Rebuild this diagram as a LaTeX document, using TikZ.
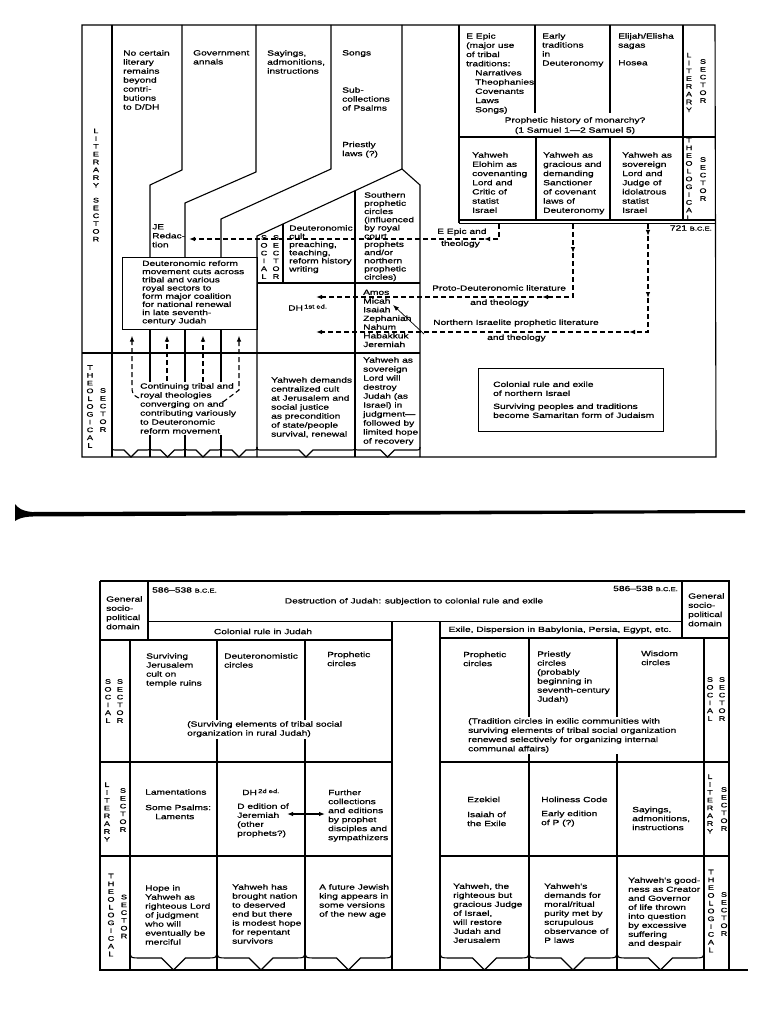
\documentclass[tikz,border=0pt]{standalone}
\usepackage{fontspec}
\usetikzlibrary{arrows.meta}
\newfontfamily\wf[FakeStretch=1.36,FakeBold=0.9]{Liberation Sans}
\newcommand{\txa}{\wf\fontsize{7.5}{9}\selectfont}
\newcommand{\txb}{\wf\fontsize{7.5}{8.2}\selectfont}
\newcommand{\txc}{\wf\fontsize{7.5}{8.7}\selectfont}
\newcommand{\txd}{\wf\fontsize{7.5}{9.2}\selectfont}
\newcommand{\ltf}{\wf\fontsize{6.6}{7.8}\selectfont}
\newcommand{\smf}{\wf\fontsize{5.6}{6}\selectfont}
\newcommand{\mybrace}[5]{%
 \pgfmathsetmacro{\mbxm}{(#1+#2)/2}%
 \pgfmathsetmacro{\mbya}{#3-#4}%
 \pgfmathsetmacro{\mbyc}{#3-#5}%
 \draw[ln] (#1,\mbya) .. controls (#1,\mbyc) and (#1,\mbyc) .. (#1+#4*0.6,\mbyc) -- (\mbxm-#5,\mbyc) -- (\mbxm,#3) -- (\mbxm+#5,\mbyc) -- (#2-#4*0.6,\mbyc) .. controls (#2,\mbyc) and (#2,\mbyc) .. (#2,\mbya);}
\tikzset{
 ln/.style={line width=1.1pt},
 dsh/.style={line width=1.1pt,dash pattern=on 5pt off 3pt},
 tx/.style={anchor=north west,inner sep=0pt,align=left,font=\txa},
 tw/.style={tx,fill=white,inner sep=1.5pt},
 ls/.style={anchor=center,inner sep=0pt,align=center,font=\ltf},
 ah/.style={-{Latex[length=6pt,width=4.5pt]}},
 bx/.style={draw,line width=1.1pt,anchor=north west,inner sep=0pt},
}
\begin{document}
\begin{tikzpicture}[x=1pt,y=-1pt]
\fill[white] (0,0) rectangle (768,1024);
\useasboundingbox (0,0) rectangle (768,1024);

% ================= TOP DIAGRAM =================
\draw[ln] (82,25) -- (715,25) -- (716,457) -- (82,457) -- cycle;
\draw[ln] (112,25) -- (112,457);
\draw[ln] (82,353) -- (420,353);
\draw[ln] (182,25) -- (182,170) -- (150,185) -- (150,257);
\draw[ln] (150,329) -- (150,457);
\draw[ln] (256,25) -- (256,172) -- (185,203) -- (185,257);
\draw[ln] (185,329) -- (185,457);
\draw[ln] (331,25) -- (331,169) -- (221,219) -- (221,257);
\draw[ln] (221,329) -- (221,457);
\draw[ln] (402,25) -- (402,169) -- (257,236) -- (257,457);
\draw[ln] (402,169) -- (420,185) -- (420,457);
\draw[ln] (283,224) -- (283,283);
\draw[ln] (257,283) -- (420,283);
\draw[ln] (355,191) -- (355,457);
% top right block
\draw[ln] (459,25) -- (459,223.5);
\draw[ln] (683,25) -- (683,220);
\draw[ln] (459,137) -- (715,137);
\draw[ln] (535,25) -- (535,113);
\draw[ln] (610,25) -- (610,113);
\draw[ln] (536,137) -- (536,220);
\draw[ln] (610,137) -- (610,220);
\draw[ln] (459,220) -- (715,220);
\draw[ln] (459,223.5) -- (715,223.5);
% braces
\mybrace{112}{150}{457}{10}{7}
\mybrace{150}{185}{457}{10}{7}
\mybrace{185}{221}{457}{10}{7}
\mybrace{221}{257}{457}{10}{7}
\mybrace{257}{355}{457}{10}{7}
\mybrace{355}{420}{457}{10}{7}

% sector labels
\node[ls] (lsTL) at (96,185) {L\\I\\T\\E\\R\\A\\R\\Y\\[7pt]S\\E\\C\\T\\O\\R};
\node[ls] (lsBLa) at (90,406.5) {T\\H\\E\\O\\L\\O\\G\\I\\C\\A\\L};
\node[ls] (lsBLb) at (103,410) {S\\E\\C\\T\\O\\R};
\node[ls] (lsTRa) at (689,82.5) {L\\I\\T\\E\\R\\A\\R\\Y};
\node[ls] (lsTRb) at (703,81) {S\\E\\C\\T\\O\\R};
\node[ls] (lsTRc) at (689,179) {T\\H\\E\\O\\L\\O\\G\\I\\C\\A\\L};
\node[ls] (lsTRd) at (703,179) {S\\E\\C\\T\\O\\R};
\node[ls] (lsSa) at (264,257) {S\\O\\C\\I\\A\\L};
\node[ls] (lsSb) at (276,257) {S\\E\\C\\T\\O\\R};

% upper column texts
\node[tx] (t1) at (123,50) {No certain\\literary\\remains\\beyond\\contri-\\butions\\to D/DH};
\node[tx] (t2) at (193,50) {Government\\annals};
\node[tx] (t3) at (267,50) {Sayings,\\admonitions,\\instructions};
\node[tx] (t4) at (342,50) {Songs};
\node[tx] (t5) at (342,87) {Sub-\\collections\\of Psalms};
\node[tx] (t6) at (342,141.5) {Priestly\\laws (?)};
\node[tx,font=\txb] (t7) at (364,192) {Southern\\prophetic\\circles\\(influenced\\by royal\\court\\prophets\\and/or\\northern\\prophetic\\circles)};
\node[tx] (t8) at (152,224) {JE\\Redac-\\tion};
\node[tx,font=\txb] (t9) at (289,225) {Deuteronomic\\cult\\preaching,\\teaching,\\reform history\\writing};
\node[bx,minimum width=135pt,minimum height=72pt] (drm) at (122,257) {};
\node[tx,font=\txb] (drmt) at (142,260.3) {Deuteronomic reform\\movement cuts across\\tribal and various\\royal sectors to\\form major coalition\\for national renewal\\in late seventh-\\century Judah};
\node[tx,anchor=west] (dh1) at (288,307.5) {DH\,\raisebox{2pt}{\smf 1st ed.}};
\node[tx,font=\txc] (proph) at (363,289.5) {Amos\\Micah\\Isaiah\\Zephaniah\\Nahum\\Habakkuk\\Jeremiah};

% top right texts
\node[tx,font=\txd] (e1) at (466,33) {E Epic\\(major use\\of tribal\\traditions:\\\hspace*{9pt}Narratives\\\hspace*{9pt}Theophanies\\\hspace*{9pt}Covenants\\\hspace*{9pt}Laws\\\hspace*{9pt}Songs)};
\node[tx] (e2) at (542,33) {Early\\traditions\\in\\Deuteronomy};
\node[tx] (e3) at (618,33) {Elijah/Elisha\\sagas};
\node[tx] (e4) at (618,60) {Hosea};
\node[tx,anchor=north,align=center] (e5) at (575,117) {Prophetic history of monarchy?\\[1pt](1 Samuel 1—2 Samuel 5)};
\node[tx,font=\txd] (y1) at (472,152) {Yahweh\\Elohim as\\covenanting\\Lord and\\Critic of\\statist\\Israel};
\node[tx,font=\txd] (y2) at (543,152) {Yahweh as\\gracious and\\demanding\\Sanctioner\\of covenant\\laws of\\Deuteronomy};
\node[tx,font=\txd] (y3) at (622,152) {Yahweh as\\sovereign\\Lord and\\Judge of\\idolatrous\\statist\\Israel};
\node[tx,anchor=east] (d721) at (712,228) {721 {\smf B.C.E.}};

% arrow labels
\node[tx,anchor=west] (la1) at (437,232) {E Epic and};
\node[tx,anchor=west] (la2) at (441,244) {theology};
\node[tx,anchor=west] (lb1) at (432,288) {Proto-Deuteronomic literature};
\node[tx,anchor=west] (lb2) at (470,303) {and theology};
\node[tx,anchor=west] (lc1) at (433,323) {Northern Israelite prophetic literature};
\node[tx,anchor=west] (lc2) at (487,338) {and theology};

% lower texts
\node[tw] (th1) at (138.5,381.5) {Continuing tribal and\\royal theologies\\converging on and\\contributing variously\\to Deuteronomic\\reform movement};
\node[tx] (th2) at (271,377) {Yahweh demands\\centralized cult\\at Jerusalem and\\social justice\\as precondition\\of state/people\\survival, renewal};
\node[tx] (th3) at (363,357) {Yahweh as\\sovereign\\Lord will\\destroy\\Judah (as\\Israel) in\\judgment—\\followed by\\limited hope\\of recovery};
\node[bx,minimum width=185pt,minimum height=63pt] (col) at (478,368) {};
\node[tx] (colt) at (493,381.3) {Colonial rule and exile\\of northern Israel\\[4pt]Surviving peoples and traditions\\become Samaritan form of Judaism};

% dashed connectors
\coordinate (a0) at (499,224); \coordinate (a2) at (484,239); \coordinate (a3) at (189,239);
\draw[dsh,ah] (a0) |- (a2);
\draw[dsh,ah] (a2) -- (a3);
\coordinate (b0) at (573,224); \coordinate (b1) at (573,253); \coordinate (b3) at (542,297); \coordinate (b4) at (316,297);
\draw[dsh,ah] (b0) -- (b1);
\draw[dsh,ah] (b1) |- (b3);
\draw[dsh,ah] (b3) -- (b4);
\coordinate (c0) at (648,224); \coordinate (c1) at (648,236); \coordinate (c2) at (648,298); \coordinate (c4) at (629,332); \coordinate (c5) at (316,332);
\draw[dsh,ah] (c0) -- (c1);
\draw[dsh,ah] (c1) -- (c2);
\draw[dsh,ah] (c2) |- (c4);
\draw[dsh,ah] (c4) -- (c5);
\coordinate (d0) at (424,334); \coordinate (d1) at (393,305);
\draw[line width=0.7pt,ah] (d0) -- (d1);
% upward arrows to reform box
\draw[dsh,ah] (139,398) .. controls (132,395) and (132,392) .. (132,386) -- (132,335.5);
\draw[dsh,ah] (167,381) -- (167,335.5);
\draw[dsh,ah] (203,382) -- (203,335.5);
\draw[dsh,ah] (223,402) -- (239,390) -- (239,335.5);

% ================= MIDDLE BAR =================
\fill[black] (15,504) .. controls (18,508) and (22,511) .. (32,512) -- (745,510) -- (745,513) -- (32,516.5) .. controls (22,517) and (18,519) .. (15,521) -- cycle;

% ================= BOTTOM DIAGRAM =================
\draw[ln] (100,581) -- (729,581) -- (729,970);
\draw[ln] (100,581) -- (100,970) -- (748,970);
\draw[ln] (148,581) -- (148,640);
\draw[ln] (100,640) -- (392,640);
\draw[ln] (148,621.5) -- (682,621.5);
\draw[ln] (682,581) -- (682,638);
\draw[ln] (440,638) -- (729,638);
\draw[ln] (392,621.5) -- (392,970);
\draw[ln] (440,621.5) -- (440,970);
\draw[ln] (130,640) -- (130,970);
\draw[ln] (217,640) -- (217,970);
\draw[ln] (305,640) -- (305,970);
\draw[ln] (529,638) -- (529,970);
\draw[ln] (617,638) -- (617,970);
\draw[ln] (704,638) -- (704,970);
\draw[ln] (100,762) -- (392,762);
\draw[ln] (440,762) -- (729,762);
\draw[ln] (100,856) -- (392,856);
\draw[ln] (440,856) -- (729,856);
\mybrace{130}{217}{970}{20}{12}
\mybrace{217}{305}{970}{20}{12}
\mybrace{305}{392}{970}{20}{12}
\mybrace{440}{529}{970}{20}{12}
\mybrace{529}{617}{970}{20}{12}
\mybrace{617}{704}{970}{20}{12}

% header
\node[tx,font=\txd] (g1) at (106,596) {General\\socio-\\political\\domain};
\node[tx,font=\txd] (g2) at (688,593) {General\\socio-\\political\\domain};
\node[tx,anchor=west] (dt1) at (152,590) {586–538 {\smf B.C.E.}};
\node[tx,anchor=east] (dt2) at (678,588.5) {586–538 {\smf B.C.E.}};
\node[tx,anchor=center] (hd) at (414,601.5) {Destruction of Judah: subjection to colonial rule and exile};
\node[tx,anchor=center] (cr) at (263,631.5) {Colonial rule in Judah};
\node[tx,anchor=center] (ex) at (560,630) {Exile, Dispersion in Babylonia, Persia, Egypt, etc.};

% bottom labels
\node[ls] (bl1) at (108,701) {S\\O\\C\\I\\A\\L};
\node[ls] (bl2) at (120,701) {S\\E\\C\\T\\O\\R};
\node[ls] (bl3) at (107,812) {L\\I\\T\\E\\R\\A\\R\\Y};
\node[ls] (bl4) at (123,810) {S\\E\\C\\T\\O\\R};
\node[ls] (bl5) at (111,915) {T\\H\\E\\O\\L\\O\\G\\I\\C\\A\\L};
\node[ls] (bl6) at (124,916.5) {S\\E\\C\\T\\O\\R};
\node[ls] (br1) at (710,699) {S\\O\\C\\I\\A\\L};
\node[ls] (br2) at (722,699) {S\\E\\C\\T\\O\\R};
\node[ls] (br3) at (710,804) {L\\I\\T\\E\\R\\A\\R\\Y};
\node[ls] (br4) at (724,809) {S\\E\\C\\T\\O\\R};
\node[ls] (br5) at (711,911) {T\\H\\E\\O\\L\\O\\G\\I\\C\\A\\L};
\node[ls] (br6) at (724,914) {S\\E\\C\\T\\O\\R};

% social row texts
\node[tx] (s1) at (146,653) {Surviving\\Jerusalem\\cult on\\temple ruins};
\node[tx] (s2) at (224,653) {Deuteronomistic\\circles};
\node[tx] (s3) at (327,651.5) {Prophetic\\circles};
\node[tw] (s4) at (185.5,719.5) {(Surviving elements of tribal social\\organization in rural Judah)};
\node[tx] (s5) at (463,651.5) {Prophetic\\circles};
\node[tx] (s6) at (537,651) {Priestly\\circles\\(probably\\beginning in\\seventh-century\\Judah)};
\node[tx] (s7) at (641,650.5) {Wisdom\\circles};
\node[tw,font=\txd] (s8) at (466.5,716.5) {(Tradition circles in exilic communities with\\surviving elements of tribal social organization\\renewed selectively for organizing internal\\communal affairs)};

% literary row texts
\node[tx] (l1) at (145,789) {Lamentations};
\node[tx] (l2) at (145,804.5) {Some Psalms:\\\hspace*{10pt}Laments};
\node[tx,anchor=west] (l3) at (242,792) {DH\,\raisebox{2pt}{\smf 2d ed.}};
\node[tx] (l4) at (237,803.2) {D edition of\\Jeremiah\\(other\\prophets?)};
\node[tx] (l5) at (328,789.5) {Further\\collections\\and editions\\by prophet\\disciples and\\sympathizers};
\coordinate (da) at (287,814); \coordinate (db) at (325,814);
\draw[line width=1.1pt,{Latex[length=6pt,width=4.5pt]}-{Latex[length=6pt,width=4.5pt]}] (da) -- (db);
\node[tx] (l6) at (467,796.5) {Ezekiel};
\node[tx] (l7) at (467,811.5) {Isaiah of\\the Exile};
\node[tx] (l8) at (541,796.5) {Holiness Code};
\node[tx] (l9) at (541,810.5) {Early edition\\of P (?)};
\node[tx] (l10) at (632,806.5) {Sayings,\\admonitions,\\instructions};

% theological row texts
\node[tx] (h1) at (145,885) {Hope in\\Yahweh as\\righteous Lord\\of judgment\\who will\\eventually be\\merciful};
\node[tx] (h2) at (232,884) {Yahweh has\\brought nation\\to deserved\\end but there\\is modest hope\\for repentant\\survivors};
\node[tx] (h3) at (319,884) {A future Jewish\\king appears in\\some versions\\of the new age};
\node[tx] (h4) at (453,883.2) {Yahweh, the\\righteous but\\gracious Judge\\of Israel,\\will restore\\Judah and\\Jerusalem};
\node[tx] (h5) at (544,883.2) {Yahweh's\\demands for\\moral/ritual\\purity met by\\scrupulous\\observance of\\P laws};
\node[tx] (h6) at (628,877.2) {Yahweh's good-\\ness as Creator\\and Governor\\of life thrown\\into question\\by excessive\\suffering\\and despair};
\end{tikzpicture}
\end{document}
